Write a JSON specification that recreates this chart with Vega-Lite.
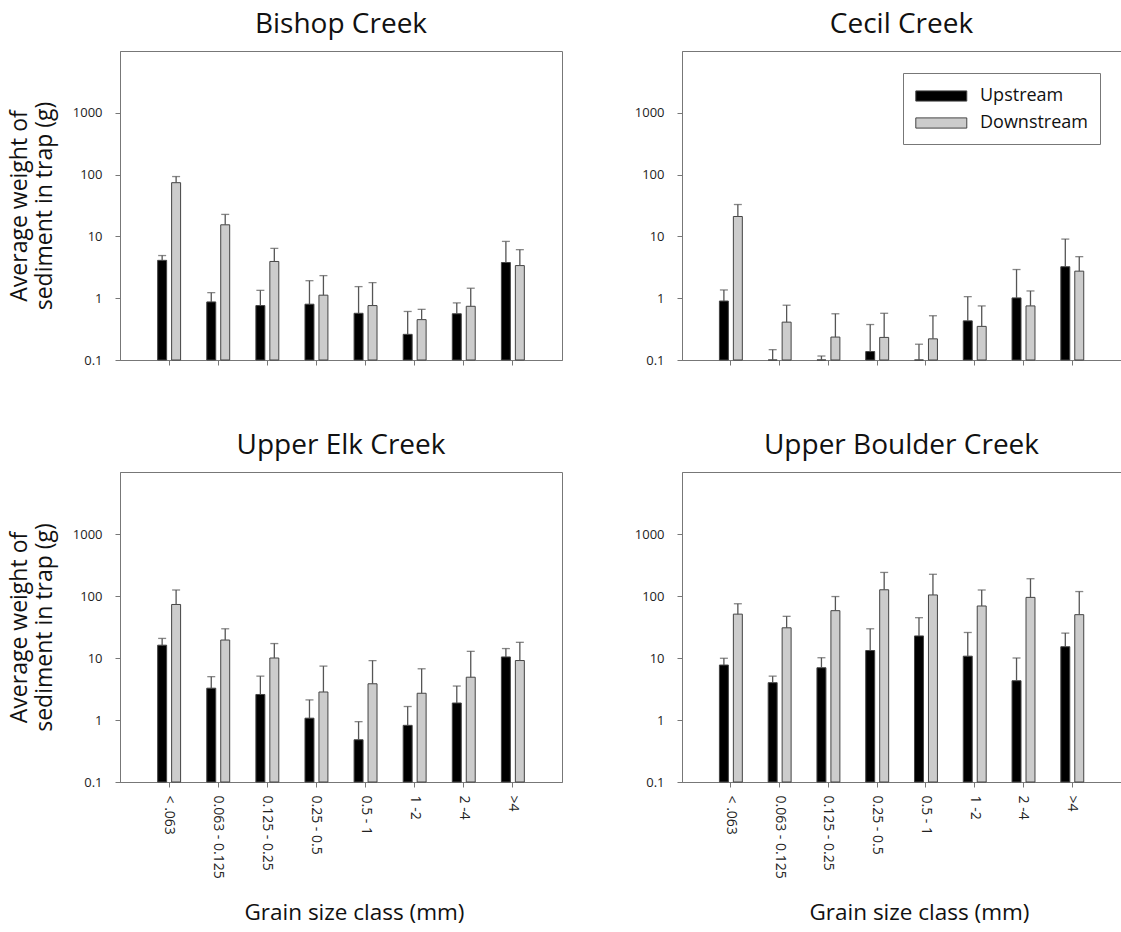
{
  "$schema": "https://vega.github.io/schema/vega-lite/v6.json",
  "padding": {"left": 7, "top": 10, "right": 0, "bottom": 0},
  "background": "white",
  "config": {
    "font": "Open Sans",
    "view": {"stroke": "#777", "strokeWidth": 1},
    "axis": {"domainColor": "#777", "tickColor": "#777", "labelColor": "#222", "labelFontSize": 13, "tickSize": 5, "grid": false, "titleColor": "#111", "titleFontWeight": "normal", "titleFontSize": 23, "labelPadding": 13},
    "title": {"fontSize": 28, "fontWeight": "normal", "offset": 12, "color": "#111"},
    "legend": {"labelColor": "#111"}
  },
  "datasets": {
    "d": [
      {"site": "Bishop Creek", "cls": "< .063", "pos": "Upstream", "mean": 4.1, "upper": 4.9},
      {"site": "Bishop Creek", "cls": "< .063", "pos": "Downstream", "mean": 74, "upper": 93},
      {"site": "Bishop Creek", "cls": "0.063 - 0.125", "pos": "Upstream", "mean": 0.87, "upper": 1.23},
      {"site": "Bishop Creek", "cls": "0.063 - 0.125", "pos": "Downstream", "mean": 15.4, "upper": 22.7},
      {"site": "Bishop Creek", "cls": "0.125 - 0.25", "pos": "Upstream", "mean": 0.76, "upper": 1.34},
      {"site": "Bishop Creek", "cls": "0.125 - 0.25", "pos": "Downstream", "mean": 3.93, "upper": 6.4},
      {"site": "Bishop Creek", "cls": "0.25 - 0.5", "pos": "Upstream", "mean": 0.8, "upper": 1.92},
      {"site": "Bishop Creek", "cls": "0.25 - 0.5", "pos": "Downstream", "mean": 1.12, "upper": 2.32},
      {"site": "Bishop Creek", "cls": "0.5 - 1", "pos": "Upstream", "mean": 0.57, "upper": 1.54},
      {"site": "Bishop Creek", "cls": "0.5 - 1", "pos": "Downstream", "mean": 0.76, "upper": 1.79},
      {"site": "Bishop Creek", "cls": "1 -2", "pos": "Upstream", "mean": 0.26, "upper": 0.61},
      {"site": "Bishop Creek", "cls": "1 -2", "pos": "Downstream", "mean": 0.45, "upper": 0.66},
      {"site": "Bishop Creek", "cls": "2 -4", "pos": "Upstream", "mean": 0.56, "upper": 0.84},
      {"site": "Bishop Creek", "cls": "2 -4", "pos": "Downstream", "mean": 0.74, "upper": 1.45},
      {"site": "Bishop Creek", "cls": ">4", "pos": "Upstream", "mean": 3.78, "upper": 8.3},
      {"site": "Bishop Creek", "cls": ">4", "pos": "Downstream", "mean": 3.37, "upper": 6.1},

      {"site": "Cecil Creek", "cls": "< .063", "pos": "Upstream", "mean": 0.9, "upper": 1.36},
      {"site": "Cecil Creek", "cls": "< .063", "pos": "Downstream", "mean": 21, "upper": 32.8},
      {"site": "Cecil Creek", "cls": "0.063 - 0.125", "pos": "Upstream", "mean": 0.05, "upper": 0.147},
      {"site": "Cecil Creek", "cls": "0.063 - 0.125", "pos": "Downstream", "mean": 0.41, "upper": 0.77},
      {"site": "Cecil Creek", "cls": "0.125 - 0.25", "pos": "Upstream", "mean": 0.05, "upper": 0.116},
      {"site": "Cecil Creek", "cls": "0.125 - 0.25", "pos": "Downstream", "mean": 0.235, "upper": 0.56},
      {"site": "Cecil Creek", "cls": "0.25 - 0.5", "pos": "Upstream", "mean": 0.137, "upper": 0.375},
      {"site": "Cecil Creek", "cls": "0.25 - 0.5", "pos": "Downstream", "mean": 0.232, "upper": 0.57},
      {"site": "Cecil Creek", "cls": "0.5 - 1", "pos": "Upstream", "mean": 0.05, "upper": 0.18},
      {"site": "Cecil Creek", "cls": "0.5 - 1", "pos": "Downstream", "mean": 0.22, "upper": 0.52},
      {"site": "Cecil Creek", "cls": "1 -2", "pos": "Upstream", "mean": 0.43, "upper": 1.06},
      {"site": "Cecil Creek", "cls": "1 -2", "pos": "Downstream", "mean": 0.35, "upper": 0.75},
      {"site": "Cecil Creek", "cls": "2 -4", "pos": "Upstream", "mean": 1.01, "upper": 2.91},
      {"site": "Cecil Creek", "cls": "2 -4", "pos": "Downstream", "mean": 0.75, "upper": 1.31},
      {"site": "Cecil Creek", "cls": ">4", "pos": "Upstream", "mean": 3.23, "upper": 9.05},
      {"site": "Cecil Creek", "cls": ">4", "pos": "Downstream", "mean": 2.74, "upper": 4.7},

      {"site": "Upper Elk Creek", "cls": "< .063", "pos": "Upstream", "mean": 16.1, "upper": 20.7},
      {"site": "Upper Elk Creek", "cls": "< .063", "pos": "Downstream", "mean": 73, "upper": 125},
      {"site": "Upper Elk Creek", "cls": "0.063 - 0.125", "pos": "Upstream", "mean": 3.26, "upper": 5.0},
      {"site": "Upper Elk Creek", "cls": "0.063 - 0.125", "pos": "Downstream", "mean": 19.5, "upper": 29.6},
      {"site": "Upper Elk Creek", "cls": "0.125 - 0.25", "pos": "Upstream", "mean": 2.58, "upper": 5.1},
      {"site": "Upper Elk Creek", "cls": "0.125 - 0.25", "pos": "Downstream", "mean": 10, "upper": 17.1},
      {"site": "Upper Elk Creek", "cls": "0.25 - 0.5", "pos": "Upstream", "mean": 1.07, "upper": 2.11},
      {"site": "Upper Elk Creek", "cls": "0.25 - 0.5", "pos": "Downstream", "mean": 2.83, "upper": 7.4},
      {"site": "Upper Elk Creek", "cls": "0.5 - 1", "pos": "Upstream", "mean": 0.48, "upper": 0.94},
      {"site": "Upper Elk Creek", "cls": "0.5 - 1", "pos": "Downstream", "mean": 3.84, "upper": 9.1},
      {"site": "Upper Elk Creek", "cls": "1 -2", "pos": "Upstream", "mean": 0.82, "upper": 1.65},
      {"site": "Upper Elk Creek", "cls": "1 -2", "pos": "Downstream", "mean": 2.7, "upper": 6.7},
      {"site": "Upper Elk Creek", "cls": "2 -4", "pos": "Upstream", "mean": 1.88, "upper": 3.53},
      {"site": "Upper Elk Creek", "cls": "2 -4", "pos": "Downstream", "mean": 4.9, "upper": 12.8},
      {"site": "Upper Elk Creek", "cls": ">4", "pos": "Upstream", "mean": 10.4, "upper": 14.2},
      {"site": "Upper Elk Creek", "cls": ">4", "pos": "Downstream", "mean": 9.1, "upper": 17.9},

      {"site": "Upper Boulder Creek", "cls": "< .063", "pos": "Upstream", "mean": 7.7, "upper": 9.9},
      {"site": "Upper Boulder Creek", "cls": "< .063", "pos": "Downstream", "mean": 51, "upper": 75},
      {"site": "Upper Boulder Creek", "cls": "0.063 - 0.125", "pos": "Upstream", "mean": 4.0, "upper": 5.1},
      {"site": "Upper Boulder Creek", "cls": "0.063 - 0.125", "pos": "Downstream", "mean": 30.7, "upper": 47},
      {"site": "Upper Boulder Creek", "cls": "0.125 - 0.25", "pos": "Upstream", "mean": 6.96, "upper": 10.1},
      {"site": "Upper Boulder Creek", "cls": "0.125 - 0.25", "pos": "Downstream", "mean": 58, "upper": 98},
      {"site": "Upper Boulder Creek", "cls": "0.25 - 0.5", "pos": "Upstream", "mean": 13.2, "upper": 29.6},
      {"site": "Upper Boulder Creek", "cls": "0.25 - 0.5", "pos": "Downstream", "mean": 126, "upper": 240},
      {"site": "Upper Boulder Creek", "cls": "0.5 - 1", "pos": "Upstream", "mean": 22.7, "upper": 44.7},
      {"site": "Upper Boulder Creek", "cls": "0.5 - 1", "pos": "Downstream", "mean": 104, "upper": 224},
      {"site": "Upper Boulder Creek", "cls": "1 -2", "pos": "Upstream", "mean": 10.7, "upper": 25.8},
      {"site": "Upper Boulder Creek", "cls": "1 -2", "pos": "Downstream", "mean": 69, "upper": 125},
      {"site": "Upper Boulder Creek", "cls": "2 -4", "pos": "Upstream", "mean": 4.3, "upper": 10},
      {"site": "Upper Boulder Creek", "cls": "2 -4", "pos": "Downstream", "mean": 95, "upper": 190},
      {"site": "Upper Boulder Creek", "cls": ">4", "pos": "Upstream", "mean": 15.2, "upper": 25.2},
      {"site": "Upper Boulder Creek", "cls": ">4", "pos": "Downstream", "mean": 50, "upper": 118}
    ]
  },
  "resolve": {"scale": {"color": "independent"}},
  "spacing": 63,
  "vconcat": [
    {
      "resolve": {"scale": {"color": "independent"}},
      "spacing": 70,
      "hconcat": [
        {
          "title": "Bishop Creek",
          "width": 442, "height": 309,
          "data": {"name": "d"},
          "transform": [{"filter": "datum.site == 'Bishop Creek'"}],
          "encoding": {
            "x": {"field": "cls", "type": "nominal", "sort": ["< .063", "0.063 - 0.125", "0.125 - 0.25", "0.25 - 0.5", "0.5 - 1", "1 -2", "2 -4", ">4"], "scale": {"paddingInner": 0.533, "paddingOuter": 0.767}, "axis": {"labels": false, "title": null, "ticks": true, "domain": true}},
            "xOffset": {"field": "pos", "type": "nominal", "sort": ["Upstream", "Downstream"], "scale": {"paddingInner": 0.357, "paddingOuter": 0}}
          },
          "layer": [
            {"mark": {"type": "bar", "stroke": "#444", "strokeWidth": 1},
             "encoding": {
               "y": {"field": "mean", "type": "quantitative", "scale": {"type": "log", "domain": [0.1, 5000], "clamp": true}, "axis": {"values": [0.1, 1, 10, 100, 1000], "format": "~g", "title": ["Average weight of", "sediment in trap (g)"], "titlePadding": 16}},
               "color": {"field": "pos", "type": "nominal", "sort": ["Upstream", "Downstream"], "scale": {"domain": ["Upstream", "Downstream"], "range": ["#000000", "#cccccc"]}, "legend": null}
             }},
            {"mark": {"type": "rule", "color": "#555", "strokeWidth": 1.3}, "encoding": {"y": {"field": "mean", "type": "quantitative"}, "y2": {"field": "upper"}}},
            {"mark": {"type": "tick", "orient": "horizontal", "color": "#555", "thickness": 1.3, "size": 8}, "encoding": {"y": {"field": "upper", "type": "quantitative"}}}
          ]
        },
        {
          "title": "Cecil Creek",
          "width": 439, "height": 309,
          "data": {"name": "d"},
          "transform": [{"filter": "datum.site == 'Cecil Creek'"}],
          "encoding": {
            "x": {"field": "cls", "type": "nominal", "sort": ["< .063", "0.063 - 0.125", "0.125 - 0.25", "0.25 - 0.5", "0.5 - 1", "1 -2", "2 -4", ">4"], "scale": {"paddingInner": 0.533, "paddingOuter": 0.767}, "axis": {"labels": false, "title": null, "ticks": true, "domain": true}},
            "xOffset": {"field": "pos", "type": "nominal", "sort": ["Upstream", "Downstream"], "scale": {"paddingInner": 0.357, "paddingOuter": 0}}
          },
          "layer": [
            {"mark": {"type": "bar", "stroke": "#444", "strokeWidth": 1},
             "encoding": {
               "y": {"field": "mean", "type": "quantitative", "scale": {"type": "log", "domain": [0.1, 5000], "clamp": true}, "axis": {"values": [0.1, 1, 10, 100, 1000], "format": "~g", "title": null}},
               "color": {"field": "pos", "type": "nominal", "sort": ["Upstream", "Downstream"], "scale": {"domain": ["Upstream", "Downstream"], "range": ["#000000", "#cccccc"]},
                 "legend": {"title": null, "orient": "none", "legendX": 221, "legendY": 22, "symbolType": "M-1,-0.5H4V0.5H-1Z", "symbolSize": 416, "labelFontSize": 18, "labelOffset": 43, "padding": 12, "strokeColor": "#777", "fillColor": "white", "rowPadding": 7, "symbolStrokeColor": "#444", "symbolStrokeWidth": 1, "symbolOpacity": 1}}
             }},
            {"mark": {"type": "rule", "color": "#555", "strokeWidth": 1.3}, "encoding": {"y": {"field": "mean", "type": "quantitative"}, "y2": {"field": "upper"}}},
            {"mark": {"type": "tick", "orient": "horizontal", "color": "#555", "thickness": 1.3, "size": 8}, "encoding": {"y": {"field": "upper", "type": "quantitative"}}}
          ]
        }
      ]
    },
    {
      "resolve": {"scale": {"color": "independent"}},
      "spacing": 70,
      "hconcat": [
        {
          "title": "Upper Elk Creek",
          "width": 442, "height": 310,
          "data": {"name": "d"},
          "transform": [{"filter": "datum.site == 'Upper Elk Creek'"}],
          "encoding": {
            "x": {"field": "cls", "type": "nominal", "sort": ["< .063", "0.063 - 0.125", "0.125 - 0.25", "0.25 - 0.5", "0.5 - 1", "1 -2", "2 -4", ">4"], "scale": {"paddingInner": 0.533, "paddingOuter": 0.767}, "axis": {"labelAngle": 90, "labelPadding": 8, "labelFontSize": 14, "title": "Grain size class (mm)", "titleFontSize": 22.5, "titlePadding": 23, "titleX": 234}},
            "xOffset": {"field": "pos", "type": "nominal", "sort": ["Upstream", "Downstream"], "scale": {"paddingInner": 0.357, "paddingOuter": 0}}
          },
          "layer": [
            {"mark": {"type": "bar", "stroke": "#444", "strokeWidth": 1},
             "encoding": {
               "y": {"field": "mean", "type": "quantitative", "scale": {"type": "log", "domain": [0.1, 5000], "clamp": true}, "axis": {"values": [0.1, 1, 10, 100, 1000], "format": "~g", "title": ["Average weight of", "sediment in trap (g)"], "titlePadding": 16}},
               "color": {"field": "pos", "type": "nominal", "sort": ["Upstream", "Downstream"], "scale": {"domain": ["Upstream", "Downstream"], "range": ["#000000", "#cccccc"]}, "legend": null}
             }},
            {"mark": {"type": "rule", "color": "#555", "strokeWidth": 1.3}, "encoding": {"y": {"field": "mean", "type": "quantitative"}, "y2": {"field": "upper"}}},
            {"mark": {"type": "tick", "orient": "horizontal", "color": "#555", "thickness": 1.3, "size": 8}, "encoding": {"y": {"field": "upper", "type": "quantitative"}}}
          ]
        },
        {
          "title": "Upper Boulder Creek",
          "width": 439, "height": 310,
          "data": {"name": "d"},
          "transform": [{"filter": "datum.site == 'Upper Boulder Creek'"}],
          "encoding": {
            "x": {"field": "cls", "type": "nominal", "sort": ["< .063", "0.063 - 0.125", "0.125 - 0.25", "0.25 - 0.5", "0.5 - 1", "1 -2", "2 -4", ">4"], "scale": {"paddingInner": 0.533, "paddingOuter": 0.767}, "axis": {"labelAngle": 90, "labelPadding": 8, "labelFontSize": 14, "title": "Grain size class (mm)", "titleFontSize": 22.5, "titlePadding": 23, "titleX": 237}},
            "xOffset": {"field": "pos", "type": "nominal", "sort": ["Upstream", "Downstream"], "scale": {"paddingInner": 0.357, "paddingOuter": 0}}
          },
          "layer": [
            {"mark": {"type": "bar", "stroke": "#444", "strokeWidth": 1},
             "encoding": {
               "y": {"field": "mean", "type": "quantitative", "scale": {"type": "log", "domain": [0.1, 5000], "clamp": true}, "axis": {"values": [0.1, 1, 10, 100, 1000], "format": "~g", "title": null}},
               "color": {"field": "pos", "type": "nominal", "sort": ["Upstream", "Downstream"], "scale": {"domain": ["Upstream", "Downstream"], "range": ["#000000", "#cccccc"]}, "legend": null}
             }},
            {"mark": {"type": "rule", "color": "#555", "strokeWidth": 1.3}, "encoding": {"y": {"field": "mean", "type": "quantitative"}, "y2": {"field": "upper"}}},
            {"mark": {"type": "tick", "orient": "horizontal", "color": "#555", "thickness": 1.3, "size": 8}, "encoding": {"y": {"field": "upper", "type": "quantitative"}}}
          ]
        }
      ]
    }
  ]
}
